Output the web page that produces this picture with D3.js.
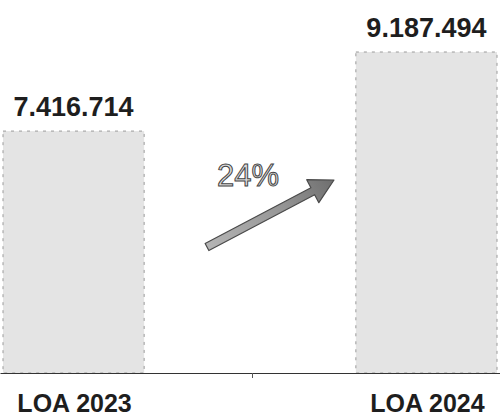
<!DOCTYPE html>
<html>
<head>
<meta charset="utf-8">
<script src="https://cdn.jsdelivr.net/npm/d3@7/dist/d3.min.js"></script>
<style>
  html, body { margin: 0; padding: 0; background: #fff; }
  svg { display: block; }
</style>
</head>
<body>
<svg id="chart" width="500" height="417"></svg>
<script>
const categories = ["LOA 2023", "LOA 2024"];
const values = [7416714, 9187494];
const valueLabels = ["7.416.714", "9.187.494"];
const growthLabel = "24%";

const W = 500, H = 417;
const svg = d3.select("#chart");

const defs = svg.append("defs");
const grad = defs.append("linearGradient").attr("id", "arrowGrad")
  .attr("x1", "0").attr("y1", "0").attr("x2", "1").attr("y2", "0");
grad.append("stop").attr("offset", "0%").attr("stop-color", "#b5b5b5");
grad.append("stop").attr("offset", "60%").attr("stop-color", "#959595");
grad.append("stop").attr("offset", "100%").attr("stop-color", "#6e6e6e");

const x = d3.scaleBand().domain(categories).range([3, 497]).paddingInner(0.6).paddingOuter(0);
const y = d3.scaleLinear().domain([2000000, 9187494]).range([373, 52]);

// bars
svg.selectAll("rect.bar").data(values).enter().append("rect")
  .attr("class", "bar")
  .attr("x", (d, i) => x(categories[i]))
  .attr("y", d => y(d))
  .attr("width", x.bandwidth())
  .attr("height", d => y.range()[0] - y(d))
  .attr("fill", "#e4e4e4")
  .attr("stroke", "#9a9a9a")
  .attr("stroke-width", 1)
  .attr("stroke-dasharray", "3,5");

// value labels
svg.selectAll("text.val").data(values).enter().append("text")
  .attr("class", "val")
  .attr("x", (d, i) => x(categories[i]) + x.bandwidth() / 2)
  .attr("y", d => y(d) - 15)
  .attr("text-anchor", "middle")
  .attr("font-family", "Liberation Sans, Arial, sans-serif")
  .attr("font-weight", "bold")
  .attr("font-size", 27)
  .attr("fill", "#1e1e1e")
  .text((d, i) => valueLabels[i]);

// baseline axis
const axis = d3.axisBottom(d3.scaleLinear().domain([0, 1]).range([0, W]))
  .tickValues([0.504]).tickSize(5).tickSizeOuter(0).tickFormat("");
const ax = svg.append("g").attr("transform", `translate(0,${y.range()[0]})`).call(axis);
ax.select(".domain").attr("stroke", "#333").attr("stroke-width", 1.2);
ax.selectAll(".tick line").attr("stroke", "#555");

// category labels
svg.selectAll("text.cat").data(categories).enter().append("text")
  .attr("class", "cat")
  .attr("x", d => x(d) + x.bandwidth() / 2 + 1)
  .attr("y", 412)
  .attr("text-anchor", "middle")
  .attr("font-family", "Liberation Sans, Arial, sans-serif")
  .attr("font-weight", "bold")
  .attr("font-size", 25)
  .attr("fill", "#1e1e1e")
  .text(d => d);

// growth arrow
const x0 = 207, y0 = 247, x1 = 334, y1 = 180;
const len = Math.hypot(x1 - x0, y1 - y0);
const ang = Math.atan2(y1 - y0, x1 - x0) * 180 / Math.PI;
const sw = 4, hw = 13, hl = 24;
const arrowPts = [[0, -sw], [len - hl, -sw], [len - hl, -hw], [len, 0], [len - hl, hw], [len - hl, sw], [0, sw]];
svg.append("path")
  .attr("transform", `translate(${x0},${y0}) rotate(${ang})`)
  .attr("d", d3.line()(arrowPts) + "Z")
  .attr("fill", "url(#arrowGrad)")
  .attr("stroke", "#4a4a4a")
  .attr("stroke-width", 1.2)
  .attr("stroke-linejoin", "round");

svg.append("text")
  .attr("x", 248).attr("y", 186)
  .attr("text-anchor", "middle")
  .attr("font-family", "Liberation Sans, Arial, sans-serif")
  .attr("font-size", 31)
  .attr("fill", "#dcdcdc")
  .attr("stroke", "#444")
  .attr("stroke-width", 1)
  .text(growthLabel);
</script>
</body>
</html>
